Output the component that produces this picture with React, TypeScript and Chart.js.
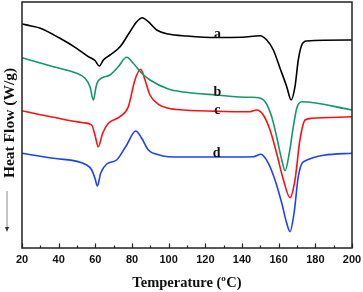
import React, { useEffect, useRef } from "react";
import { Chart, registerables } from "chart.js";

Chart.register(...registerables);

// Temperature (°C) and heat flow (arbitrary units, curves offset)
const aTemp = [20, 25, 30, 40.7, 49.8, 56.2, 59.8, 62.2, 64.4, 68, 73.5, 78.9, 82.6, 85.6, 88.9, 93.5, 99.8, 110, 126, 140, 149.8, 153.5, 157.1, 160.7, 164.4, 166.8, 168.9, 170.7, 172.6, 175.3, 200];
const aFlow = [22.4, 22.2, 21.97, 20.97, 19.97, 19.13, 18.75, 18.2, 18.8, 19.3, 20.13, 21.63, 22.63, 23.03, 22.63, 21.8, 21.4, 21.2, 21.05, 21.07, 21.23, 20.8, 19.8, 18.0, 16.13, 14.8, 16.13, 18.8, 20.3, 20.7, 20.8];

const bTemp = [20, 37.1, 49.8, 54.4, 57.1, 58.9, 60.4, 61.6, 68, 72.5, 77.1, 80.7, 85.3, 89.8, 99.8, 108, 126, 144.4, 148, 152.6, 156.2, 158.9, 161.7, 163.5, 165.8, 168, 169.9, 172.6, 200];
const bFlow = [19.03, 18.13, 17.47, 16.97, 16.13, 14.8, 16.13, 16.73, 17.3, 18.13, 19.07, 18.47, 17.47, 16.8, 15.9, 15.6, 15.3, 15.07, 15.05, 14.63, 13.13, 11.13, 8.8, 7.73, 9.5, 12.13, 14.0, 14.63, 13.8];

const cTemp = [20, 37.1, 53.4, 58, 59.8, 61.6, 64, 67.1, 73.5, 78, 81.6, 84.7, 87.1, 89.8, 94.4, 99.8, 108, 130, 144.4, 148, 151.6, 155.3, 158.9, 162.6, 166.2, 168.9, 171.6, 174.4, 178, 200];
const cFlow = [13.73, 13.07, 12.53, 12.3, 11.3, 10.13, 11.47, 12.47, 13.13, 14.13, 16.8, 17.87, 16.8, 15.3, 14.37, 13.97, 13.8, 13.65, 13.63, 13.8, 13.3, 11.8, 9.47, 6.8, 5.03, 6.8, 10.8, 12.8, 12.97, 13.13];

const dTemp = [20, 37.1, 55.3, 58, 59.8, 61.1, 62.9, 66.2, 71.6, 77.1, 82, 85.3, 88.9, 93.5, 99.8, 120, 146.2, 150.2, 154.4, 158, 161.7, 164.4, 166.2, 168.4, 170.7, 173.5, 200];
const dFlow = [9.47, 8.97, 8.3, 7.8, 6.97, 6.2, 7.47, 8.4, 8.8, 10.3, 11.7, 10.97, 9.8, 9.37, 9.13, 9.1, 9.13, 9.37, 8.47, 6.8, 4.47, 2.47, 1.63, 3.5, 7.13, 8.63, 9.47];

const seriesNames = ["a", "b", "c", "d"];
const seriesColors = ["#000000", "#15976b", "#ff1010", "#2040ff"];
const labelTemp = [126.6, 126.6, 126.6, 126.2];
const labelFlow = [21.4, 15.52, 13.8, 9.47];

const xTickLabels = [20, 40, 60, 80, 100, 120, 140, 160, 180, 200];
const xMinorTicks = [30, 50, 70, 90, 110, 130, 150, 170, 190];

const toPoints = (t: number[], f: number[]) => t.map((x, i) => ({ x, y: f[i] }));

const decorPlugin = {
  id: "decor",
  afterDraw(chart: any) {
    const ctx = chart.ctx as CanvasRenderingContext2D;
    const { left, right, top, bottom } = chart.chartArea;
    const xs = chart.scales.x;
    const ys = chart.scales.y;
    ctx.save();
    // frame
    ctx.strokeStyle = "#222";
    ctx.lineWidth = 1.5;
    ctx.strokeRect(left, top, right - left, bottom - top);
    // inward ticks
    ctx.lineWidth = 1.2;
    ctx.beginPath();
    xTickLabels.forEach((v) => {
      const px = Math.round(xs.getPixelForValue(v)) + 0.5;
      ctx.moveTo(px, bottom);
      ctx.lineTo(px, bottom - 4.5);
    });
    xMinorTicks.forEach((v) => {
      const px = Math.round(xs.getPixelForValue(v)) + 0.5;
      ctx.moveTo(px, bottom);
      ctx.lineTo(px, bottom - 2.5);
    });
    ctx.stroke();
    // tick labels
    ctx.fillStyle = "#111";
    ctx.font = "bold 11px 'Liberation Sans', Arial, sans-serif";
    ctx.textAlign = "center";
    ctx.textBaseline = "middle";
    xTickLabels.forEach((v) => {
      ctx.fillText(String(v), xs.getPixelForValue(v), 259.5);
    });
    // x title
    const cx = (left + right) / 2;
    const mainFont = "bold 14.5px 'Liberation Serif', 'Times New Roman', serif";
    const supFont = "bold 9px 'Liberation Serif', 'Times New Roman', serif";
    ctx.textAlign = "left";
    ctx.textBaseline = "alphabetic";
    ctx.font = mainFont;
    const p1 = "Temperature (";
    const p3 = "C)";
    const w1 = ctx.measureText(p1).width;
    const w3 = ctx.measureText(p3).width;
    ctx.font = supFont;
    const w2 = ctx.measureText("o").width + 0.5;
    let sx = cx - (w1 + w2 + w3) / 2;
    const base = 286.5;
    ctx.font = mainFont;
    ctx.fillText(p1, sx, base);
    sx += w1;
    ctx.font = supFont;
    ctx.fillText("o", sx, base - 6);
    sx += w2;
    ctx.font = mainFont;
    ctx.fillText(p3, sx, base);
    // y title
    ctx.save();
    ctx.translate(13.5, 123);
    ctx.rotate(-Math.PI / 2);
    ctx.font = "bold 15.5px 'Liberation Serif', 'Times New Roman', serif";
    ctx.textAlign = "center";
    ctx.textBaseline = "alphabetic";
    ctx.fillText("Heat Flow (W/g)", 0, 0);
    ctx.restore();
    // arrow
    ctx.strokeStyle = "#888";
    ctx.lineWidth = 1;
    ctx.beginPath();
    ctx.moveTo(7, 191);
    ctx.lineTo(7, 229);
    ctx.stroke();
    ctx.fillStyle = "#333";
    ctx.beginPath();
    ctx.moveTo(5, 227);
    ctx.lineTo(9, 227);
    ctx.lineTo(7, 232);
    ctx.closePath();
    ctx.fill();
    // curve labels
    ctx.fillStyle = "#111";
    ctx.font = "bold 14px 'Liberation Serif', 'Times New Roman', serif";
    ctx.textAlign = "center";
    ctx.textBaseline = "alphabetic";
    seriesNames.forEach((n, i) => {
      ctx.fillText(n, xs.getPixelForValue(labelTemp[i]), ys.getPixelForValue(labelFlow[i]) + 3.5);
    });
    ctx.restore();
  },
};

export default function App() {
  const ref = useRef<HTMLCanvasElement | null>(null);
  useEffect(() => {
    document.body.style.margin = "0";
    const canvas = ref.current;
    if (!canvas) return;
    const temps = [aTemp, bTemp, cTemp, dTemp];
    const flows = [aFlow, bFlow, cFlow, dFlow];
    const chart = new Chart(canvas, {
      type: "line",
      data: {
        datasets: seriesNames.map((n, i) => ({
          label: n,
          data: toPoints(temps[i], flows[i]),
          borderColor: seriesColors[i],
          borderWidth: 1.6,
          pointRadius: 0,
          fill: false,
          cubicInterpolationMode: "monotone" as const,
        })),
      },
      options: {
        responsive: false,
        animation: false,
        layout: { padding: { left: 22, right: 11, top: 2, bottom: 44 } },
        plugins: { legend: { display: false }, tooltip: { enabled: false } },
        scales: {
          x: { type: "linear", min: 20, max: 200, display: false },
          y: { type: "linear", min: 0, max: 24.6, display: false },
        },
      },
      plugins: [decorPlugin],
    });
    return () => chart.destroy();
  }, []);
  return (
    <div style={{ width: 363, height: 292 }}>
      <canvas ref={ref} width={363} height={292} style={{ display: "block" }} />
    </div>
  );
}
